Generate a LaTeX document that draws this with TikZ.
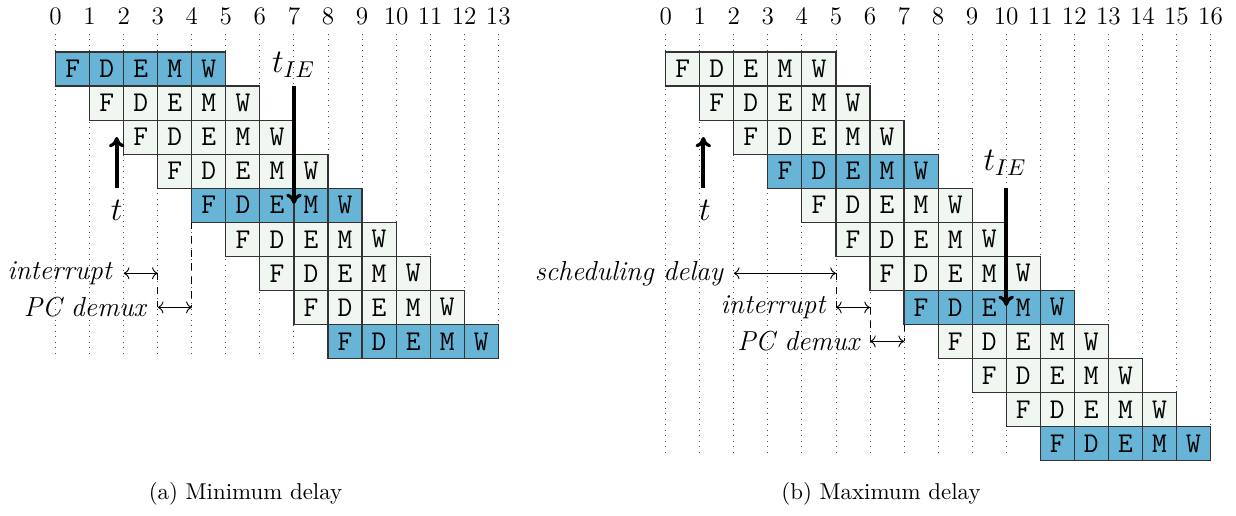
\documentclass[tikz,border=0pt]{standalone}
\usetikzlibrary{arrows.meta}
\definecolor{cellblue}{RGB}{104,180,214}
\definecolor{celllight}{RGB}{240,247,240}
\tikzset{
  cell/.style={draw=black!80, line width=0.5pt, minimum width=14.866pt, minimum height=14.866pt, inner sep=0pt, font=\ttfamily\fontsize{12.5}{13}\selectfont},
  gridnum/.style={font=\fontsize{11}{13}\selectfont},
  gridline/.style={dotted, black!70, line width=0.4pt},
  bigarrow/.style={line width=1.9pt, -{To[length=4.5pt,width=6.8pt,line width=1.4pt]}},
  span/.style={<->, line width=0.4pt},
  guide/.style={dashed, line width=0.4pt},
  lbl/.style={font=\itshape\fontsize{12}{14}\selectfont, anchor=east, inner sep=0pt},
  timelbl/.style={font=\fontsize{14.4}{16}\selectfont, inner sep=0pt},
  captionlbl/.style={font=\fontsize{10}{12}\selectfont}
}
\begin{document}
\begin{tikzpicture}[x=0.4366pt,y=-0.4366pt]
\useasboundingbox (0,0) rectangle (1236,516);
% ---------------- (a) left ----------------
\def\LX{55.6}
\def\P{34.05}
\def\T{52}
\foreach \n in {0,...,13}{
  \pgfmathsetmacro\gx{\LX+\n*\P}
  \node[gridnum] (La-num-\n) at (\gx,16) {\n};
  \draw[gridline] (\gx,34) -- (\gx,355);
}
% guides
\coordinate (La-g3a) at (\LX+3*\P,273.3);
\coordinate (La-g3b) at (\LX+3*\P,307.4);
\coordinate (La-g4a) at (\LX+4*\P,222.2);
\coordinate (La-g4b) at (\LX+4*\P,307.4);
\coordinate (La-g2) at (\LX+2*\P,273.3);
\draw[guide] (La-g3a) -- (La-g3b);
\draw[guide] (La-g4a) -- (La-g4b);
\foreach \r in {0,...,8}{
  \foreach \s [count=\c from 0] in {F,D,E,M,W}{
    \pgfmathsetmacro\cx{\LX+(\r+\c+0.5)*\P}
    \pgfmathsetmacro\cy{\T+(\r+0.5)*\P}
    \pgfmathtruncatemacro\isblue{mod(\r,4)==0}
    \ifnum\isblue=1 \def\cf{cellblue}\else\def\cf{celllight}\fi
    \node[cell, fill=\cf] (La-\r-\c) at (\cx,\cy) {\s};
  }
}
\draw[span] (La-g2) -- (La-g3a);
\draw[span] (La-g3b) -- (La-g4b);
\node[lbl] (La-int) at ([xshift=-5pt]La-g2) {interrupt};
\node[lbl] (La-pcd) at ([xshift=-5pt]La-g3b) {PC demux};
% t arrow
\coordinate (La-t0) at (116.7,188);
\coordinate (La-t1) at (116.7,137);
\draw[bigarrow] (La-t0) -- (La-t1);
\node[timelbl] (La-t) at (116.7,210) {$t$};
% tIE arrow
\coordinate (La-i0) at (\LX+7*\P,86);
\coordinate (La-i1) at (\LX+7*\P,204);
\draw[bigarrow] (La-i0) -- (La-i1);
\node[timelbl] (La-tie) at (293.5,65) {$t_{IE}$};
\node[captionlbl] (La-cap) at (245.5,494) {(a) Minimum delay};
% ---------------- (b) right ----------------
\def\RX{665.7}
\foreach \n in {0,...,16}{
  \pgfmathsetmacro\gx{\RX+\n*\P}
  \node[gridnum] (Rb-num-\n) at (\gx,16) {\n};
  \draw[gridline] (\gx,34) -- (\gx,457);
}
\coordinate (Rb-g2) at (\RX+2*\P,273.3);
\coordinate (Rb-g5a) at (\RX+5*\P,273.3);
\coordinate (Rb-g5b) at (\RX+5*\P,307.4);
\coordinate (Rb-g6a) at (\RX+6*\P,307.4);
\coordinate (Rb-g6b) at (\RX+6*\P,341.4);
\coordinate (Rb-g7a) at (\RX+7*\P,324.4);
\coordinate (Rb-g7b) at (\RX+7*\P,341.4);
\draw[guide] (Rb-g5a) -- (Rb-g5b);
\draw[guide] (Rb-g6a) -- (Rb-g6b);
\draw[guide] (Rb-g7a) -- (Rb-g7b);
\foreach \r in {0,...,11}{
  \foreach \s [count=\c from 0] in {F,D,E,M,W}{
    \pgfmathsetmacro\cx{\RX+(\r+\c+0.5)*\P}
    \pgfmathsetmacro\cy{\T+(\r+0.5)*\P}
    \pgfmathtruncatemacro\isblue{mod(\r,4)==3}
    \ifnum\isblue=1 \def\cf{cellblue}\else\def\cf{celllight}\fi
    \node[cell, fill=\cf] (Rb-\r-\c) at (\cx,\cy) {\s};
  }
}
\draw[span] (Rb-g2) -- (Rb-g5a);
\draw[span] (Rb-g5b) -- (Rb-g6a);
\draw[span] (Rb-g6b) -- (Rb-g7b);
\node[lbl] (Rb-sch) at ([xshift=-4.5pt]Rb-g2) {scheduling delay};
\node[lbl] (Rb-int) at ([xshift=-4.5pt]Rb-g5b) {interrupt};
\node[lbl] (Rb-pcd) at ([xshift=-4.5pt]Rb-g6b) {PC demux};
\coordinate (Rb-t0) at (703.3,188);
\coordinate (Rb-t1) at (703.3,137);
\draw[bigarrow] (Rb-t0) -- (Rb-t1);
\node[timelbl] (Rb-t) at (705,210) {$t$};
\coordinate (Rb-i0) at (\RX+10*\P,188);
\coordinate (Rb-i1) at (\RX+10*\P,306);
\draw[bigarrow] (Rb-i0) -- (Rb-i1);
\node[timelbl] (Rb-tie) at (1005,163) {$t_{IE}$};
\node[captionlbl] (Rb-cap) at (881,494) {(b) Maximum delay};
\end{tikzpicture}
\end{document}
